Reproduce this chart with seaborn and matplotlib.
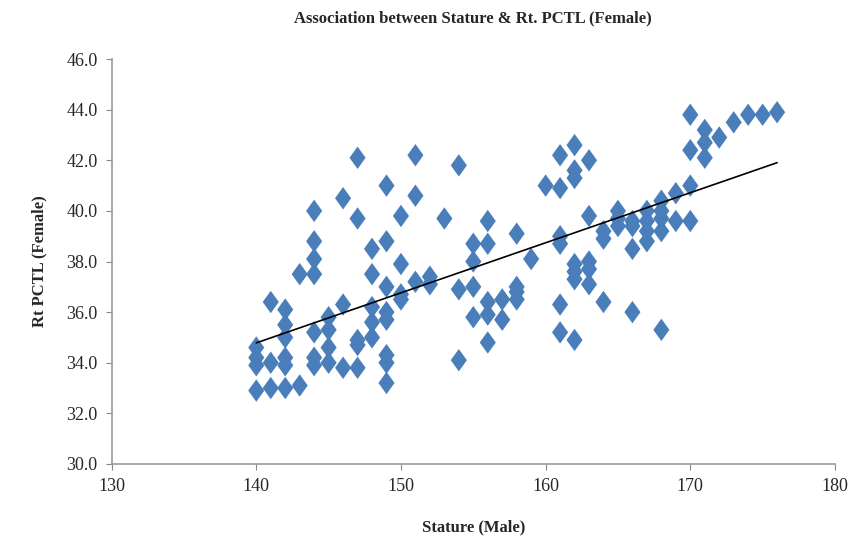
import numpy as np
import pandas as pd
import matplotlib
matplotlib.use("Agg")
import matplotlib.pyplot as plt
import seaborn as sns

# stature (male) per point, grouped by x value
stature = (
    [140] * 4 + [141] * 3 + [142] * 6 + [143] * 2 + [144] * 7 + [145] * 4 +
    [146] * 3 + [147] * 5 + [148] * 5 + [149] * 8 + [150] * 4 + [151] * 3 +
    [152] * 2 + [153] * 1 + [154] * 3 + [155] * 4 + [156] * 5 + [157] * 2 +
    [158] * 4 + [159] * 1 + [160] * 1 + [161] * 6 + [162] * 7 + [163] * 5 +
    [164] * 3 + [165] * 3 + [166] * 4 + [167] * 4 + [168] * 5 + [169] * 2 +
    [170] * 4 + [171] * 3 + [172] * 1 + [173] * 1 + [174] * 1 + [175] * 1 +
    [176] * 1
)

rt_pctl = [
    34.6, 34.2, 33.9, 32.9,                  # 140
    36.4, 34.0, 33.0,                        # 141
    36.1, 35.5, 35.0, 34.2, 33.9, 33.0,      # 142
    37.5, 33.1,                              # 143
    40.0, 38.8, 38.1, 37.5, 35.2, 34.2, 33.9,  # 144
    35.8, 35.3, 34.6, 34.0,                  # 145
    40.5, 36.3, 33.8,                        # 146
    42.1, 39.7, 34.9, 34.7, 33.8,            # 147
    38.5, 37.5, 36.2, 35.6, 35.0,            # 148
    41.0, 38.8, 37.0, 36.0, 35.7, 34.3, 34.0, 33.2,  # 149
    39.8, 37.9, 36.7, 36.5,                  # 150
    42.2, 40.6, 37.2,                        # 151
    37.4, 37.1,                              # 152
    39.7,                                    # 153
    41.8, 36.9, 34.1,                        # 154
    38.7, 38.0, 37.0, 35.8,                  # 155
    39.6, 38.7, 36.4, 35.9, 34.8,            # 156
    36.5, 35.7,                              # 157
    39.1, 37.0, 36.8, 36.5,                  # 158
    38.1,                                    # 159
    41.0,                                    # 160
    42.2, 40.9, 39.0, 38.7, 36.3, 35.2,      # 161
    42.6, 41.6, 41.3, 37.9, 37.6, 37.3, 34.9,  # 162
    42.0, 39.8, 38.0, 37.7, 37.1,            # 163
    39.2, 38.9, 36.4,                        # 164
    40.0, 39.7, 39.4,                        # 165
    39.6, 39.4, 38.5, 36.0,                  # 166
    40.0, 39.6, 39.2, 38.8,                  # 167
    40.4, 40.0, 39.7, 39.2, 35.3,            # 168
    40.7, 39.6,                              # 169
    43.8, 42.4, 41.0, 39.6,                  # 170
    43.2, 42.7, 42.1,                        # 171
    42.9,                                    # 172
    43.5,                                    # 173
    43.8,                                    # 174
    43.8,                                    # 175
    43.9,                                    # 176
]

x_ticks = [130, 140, 150, 160, 170, 180]
y_ticks = [30, 32, 34, 36, 38, 40, 42, 44, 46]

df = pd.DataFrame({"stature": stature, "rt_pctl": rt_pctl})

sns.set_style("white")
plt.rcParams["font.family"] = ["Liberation Serif", "DejaVu Serif"]

fig = plt.figure(figsize=(8.52, 5.42), dpi=100)
ax = fig.add_axes([0.131, 0.144, 0.849, 0.747])

# Excel-style diamond, a little taller than wide
diamond = [(0, 1), (0.72, 0), (0, -1), (-0.72, 0), (0, 1)]
sns.scatterplot(data=df, x="stature", y="rt_pctl", marker=diamond, s=260,
                color="#4a7ebb", edgecolor="none", ax=ax, zorder=2)

# linear trend line
coef = np.polyfit(df["stature"], df["rt_pctl"], 1)
xs = np.array([df["stature"].min(), df["stature"].max()])
ax.plot(xs, np.polyval(coef, xs), color="black", lw=1.2, zorder=3)

ax.set_xlim(130, 180)
ax.set_ylim(30, 46)
ax.set_xticks(x_ticks)
ax.set_yticks(y_ticks)
ax.set_yticklabels([f"{v:.1f}" for v in y_ticks])
ax.tick_params(axis="both", labelsize=13, length=4, color="#888888",
               bottom=True, left=True, pad=6)

sns.despine(ax=ax)
for side in ["left", "bottom"]:
    ax.spines[side].set_color("#999999")
    ax.spines[side].set_linewidth(1.2)

ax.set_xlabel("Stature (Male)", fontsize=12, fontweight="bold", labelpad=18)
ax.set_ylabel("Rt PCTL (Female)", fontsize=12, fontweight="bold", labelpad=14)
fig.suptitle("Association between Stature & Rt. PCTL (Female)", fontsize=12,
             fontweight="bold", x=0.555, y=0.98)

fig.savefig("out.png", dpi=100)
